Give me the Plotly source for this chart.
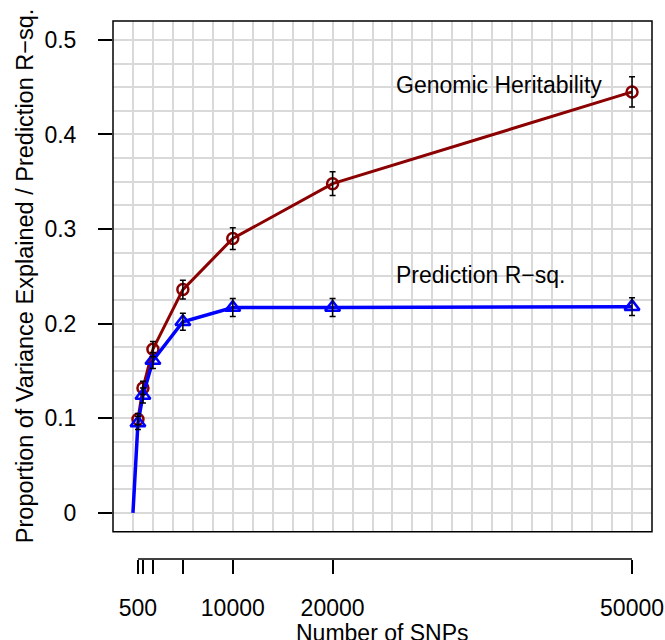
import plotly.graph_objects as go

# Data
snps = [500, 1000, 2000, 5000, 10000, 20000, 50000]
heritability = [0.099, 0.132, 0.173, 0.236, 0.290, 0.348, 0.445]
heritability_err = [0.006, 0.007, 0.008, 0.010, 0.0115, 0.0125, 0.016]
prediction = [0.095, 0.124, 0.161, 0.202, 0.217, 0.217, 0.218]
prediction_err = [0.007, 0.008, 0.0085, 0.009, 0.0095, 0.0095, 0.0095]
origin_snps = [0]
origin_value = [0]

x_tickvals = [500, 1000, 2000, 5000, 10000, 20000, 50000]
x_ticktext = ["500", "", "", "", "10000", "20000", "50000"]
y_tickvals = [0, 0.1, 0.2, 0.3, 0.4, 0.5]
y_ticktext = ["0", "0.1", "0.2", "0.3", "0.4", "0.5"]

RED = "#8B0000"
BLUE = "#0000FF"
GRID = "#d9d9d9"
FONT = "Liberation Sans, Arial, sans-serif"
FS = 23

fig = go.Figure()

# Genomic heritability line + open circles
fig.add_trace(go.Scatter(
    x=snps, y=heritability,
    mode="lines+markers",
    line=dict(color=RED, width=3),
    marker=dict(symbol="circle-open", size=11, color=RED, line=dict(width=2.5, color=RED)),
    showlegend=False,
))

# Prediction R-sq line (starts at the origin) + open triangles
fig.add_trace(go.Scatter(
    x=origin_snps + snps, y=origin_value + prediction,
    mode="lines",
    line=dict(color=BLUE, width=3.5),
    showlegend=False,
))
fig.add_trace(go.Scatter(
    x=snps, y=prediction,
    mode="markers",
    marker=dict(symbol="triangle-up-open", size=13, color=BLUE, line=dict(width=2.5, color=BLUE)),
    showlegend=False,
))

# Error bars on top of the markers
for vals, errs in [(heritability, heritability_err), (prediction, prediction_err)]:
    fig.add_trace(go.Scatter(
        x=snps, y=vals,
        xaxis="x2",
        mode="markers",
        marker=dict(color="rgba(0,0,0,0)", size=1),
        error_y=dict(type="data", array=errs, color="black", thickness=1.5, width=3),
        showlegend=False,
        hoverinfo="skip",
    ))

# Plot frame
fig.add_shape(type="rect", xref="x domain", yref="y domain",
              x0=0, x1=1, y0=0, y1=1, line=dict(color="black", width=1.5))

# Detached x axis line spanning the tick range
fig.add_shape(type="line", xref="x2", yref="paper",
              x0=min(x_tickvals), x1=max(x_tickvals), y0=0, y1=0,
              line=dict(color="black", width=1.5))

fig.add_annotation(text="Genomic Heritability", x=26200, y=0.452, xref="x", yref="y",
                   xanchor="left", yanchor="middle", showarrow=False,
                   font=dict(size=FS, color="black", family=FONT))
fig.add_annotation(text="Prediction R\u2212sq.", x=26200, y=0.2515, xref="x", yref="y",
                   xanchor="left", yanchor="middle", showarrow=False,
                   font=dict(size=FS, color="black", family=FONT))

fig.add_annotation(text="Number of SNPs", x=0.5, y=-0.138, xref="paper", yref="paper",
                   xanchor="center", yanchor="middle", showarrow=False,
                   font=dict(size=FS, color="black", family=FONT))
fig.add_annotation(text="Proportion of Variance Explained / Prediction R\u2212sq.",
                   x=-0.163, y=0.526, xref="paper", yref="paper", textangle=-90,
                   xanchor="center", yanchor="middle", showarrow=False,
                   font=dict(size=23.5, color="black", family=FONT))

fig.update_layout(
    width=665, height=640,
    margin=dict(l=113, r=13, t=21, b=81),
    paper_bgcolor="white",
    plot_bgcolor="white",
    font=dict(family=FONT, size=FS, color="black"),
    xaxis=dict(
        range=[-2000, 52000],
        tick0=0, dtick=2000,
        showgrid=True, gridcolor=GRID, gridwidth=1.5,
        showticklabels=False, ticks="",
        zeroline=False, showline=False, automargin=False,
    ),
    xaxis2=dict(
        overlaying="x", anchor="free", position=0,
        range=[-2000, 52000],
        tickmode="array", tickvals=x_tickvals, ticktext=x_ticktext,
        ticks="outside", ticklen=14, tickwidth=1.5, tickcolor="black",
        ticklabelstandoff=14,
        showgrid=False, zeroline=False, showline=False, automargin=False,
    ),
    yaxis=dict(
        domain=[0.0507, 1],
        range=[-0.02, 0.52],
        tickmode="array", tickvals=y_tickvals, ticktext=y_ticktext,
        showgrid=True, gridcolor=GRID, gridwidth=1.5,
        minor=dict(tickmode="linear", tick0=0, dtick=0.025, showgrid=True,
                   gridcolor=GRID, gridwidth=1.5, ticks=""),
        ticks="outside", ticklen=14, tickwidth=1.5, tickcolor="black",
        ticklabelstandoff=17,
        zeroline=False, showline=False, automargin=False,
    ),
)

# drop the default page margin so the figure fills the window exactly
fig.write_html("out.html", config={"displayModeBar": False},
               post_script="document.body.style.margin='0';document.body.style.overflow='hidden';")
